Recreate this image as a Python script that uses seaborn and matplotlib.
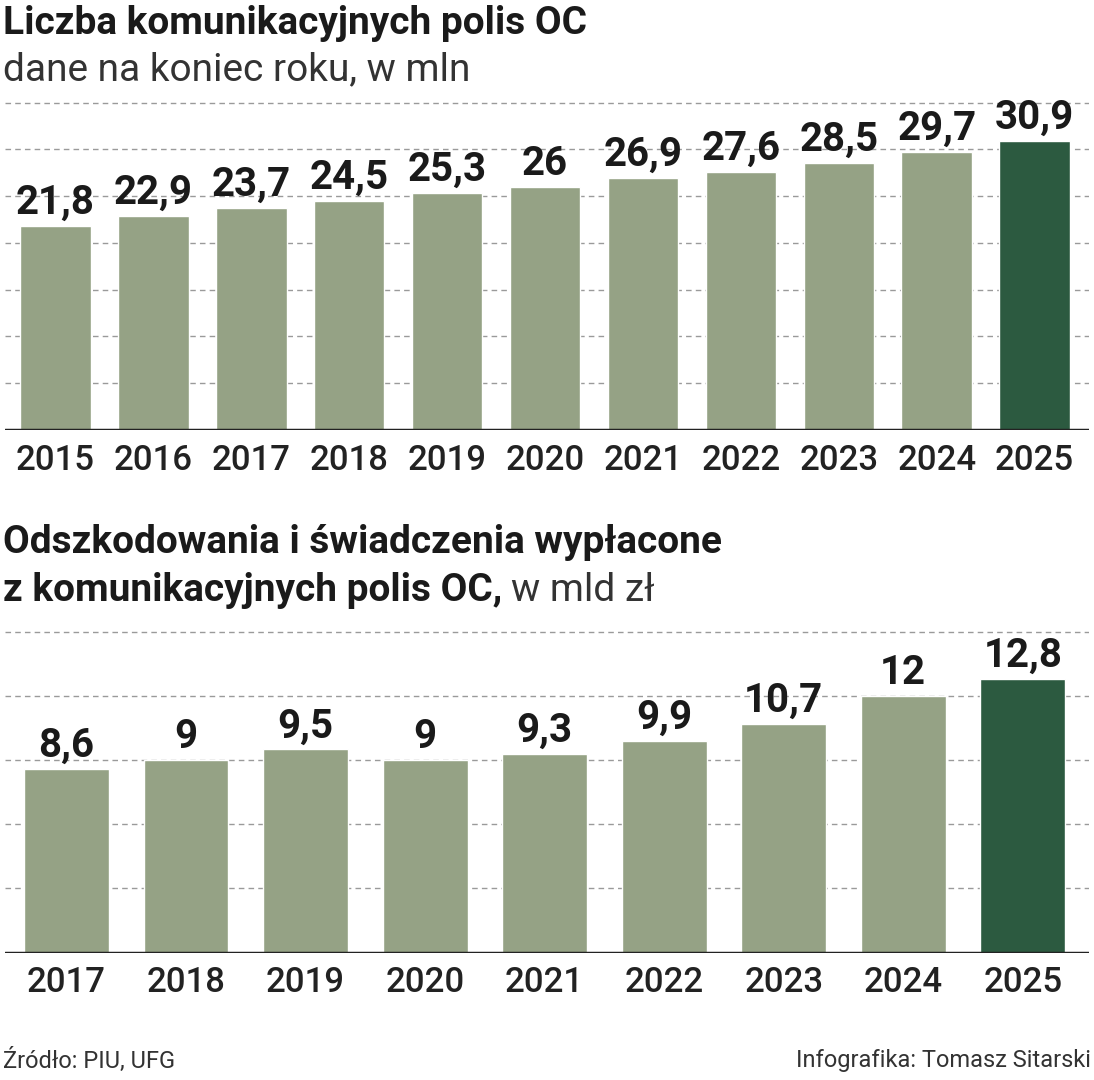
import matplotlib
matplotlib.use('Agg')
import matplotlib.pyplot as plt
import seaborn as sns
import pandas as pd

lata_polisy = ['2015', '2016', '2017', '2018', '2019', '2020', '2021', '2022', '2023', '2024', '2025']
polisy = [21.8, 22.9, 23.7, 24.5, 25.3, 26, 26.9, 27.6, 28.5, 29.7, 30.9]
lata_odszk = ['2017', '2018', '2019', '2020', '2021', '2022', '2023', '2024', '2025']
odszk = [8.6, 9, 9.5, 9, 9.3, 9.9, 10.7, 12, 12.8]

JASNY = '#95a285'
CIEMNY = '#2c5a40'

sns.set_style('white')
plt.rcParams['font.family'] = ['Liberation Sans Narrow', 'Roboto', 'DejaVu Sans']

fig = plt.figure(figsize=(10.94, 10.8), dpi=100)


def rysuj(ax, lata, wartosci, siatka, ymax, szer):
    df = pd.DataFrame({'rok': lata, 'v': wartosci})
    kolory = [JASNY] * (len(lata) - 1) + [CIEMNY]
    sns.barplot(data=df, x='rok', y='v', hue='rok', palette=kolory, legend=False,
                width=szer, ax=ax, saturation=1)
    for g in siatka:
        ax.axhline(g, color='#9a9a9a', lw=1, ls=(0, (4, 3)), zorder=0)
    for i, v in enumerate(wartosci):
        ax.text(i, v + ymax * 0.012, f'{v:g}'.replace('.', ','), ha='center', va='bottom',
                fontsize=29, fontweight='bold', color='#1a1a1a')
    ax.axhline(0, color='#222', lw=2.5)
    ax.set_ylim(0, ymax)
    ax.set_xlim(-0.51, len(lata) - 0.45)
    ax.set_xlabel('')
    ax.set_ylabel('')
    ax.set_yticks([])
    ax.tick_params(axis='x', length=0, labelsize=25, pad=10, labelcolor='#222')
    for lb in ax.get_xticklabels():
        lb.set_fontweight('medium')
    sns.despine(ax=ax, left=True, bottom=True)


ax1 = fig.add_axes([0.005, 0.602, 0.99, 0.31])
rysuj(ax1, lata_polisy, polisy, [5, 10, 15, 20, 25, 30, 35], 35.8, 0.72)

ax2 = fig.add_axes([0.005, 0.118, 0.99, 0.305])
rysuj(ax2, lata_odszk, odszk, [3, 6, 9, 12, 15], 15.4, 0.71)

fig.text(0.003, 0.978, 'Liczba komunikacyjnych polis OC', fontsize=28, fontweight='bold',
         va='center', color='#1a1a1a')
fig.text(0.003, 0.935, 'dane na koniec roku, w mln', fontsize=28, va='center', color='#333')
fig.text(0.003, 0.498, 'Odszkodowania i świadczenia wypłacone', fontsize=28, fontweight='bold',
         va='center', color='#1a1a1a')
t = fig.text(0.003, 0.453, 'z komunikacyjnych polis OC,', fontsize=28, fontweight='bold',
             va='center', color='#1a1a1a')
fig.canvas.draw()
bb = t.get_window_extent().transformed(fig.transFigure.inverted())
fig.text(bb.x1 + 0.008, 0.453, 'w mld zł', fontsize=28, va='center', color='#333')

fig.text(0.003, 0.018, 'Źródło: PIU, UFG', fontsize=17, va='center', color='#333')
fig.text(0.997, 0.018, 'Infografika: Tomasz Sitarski', fontsize=17, va='center', ha='right', color='#333')

fig.savefig('out.png', dpi=100)
